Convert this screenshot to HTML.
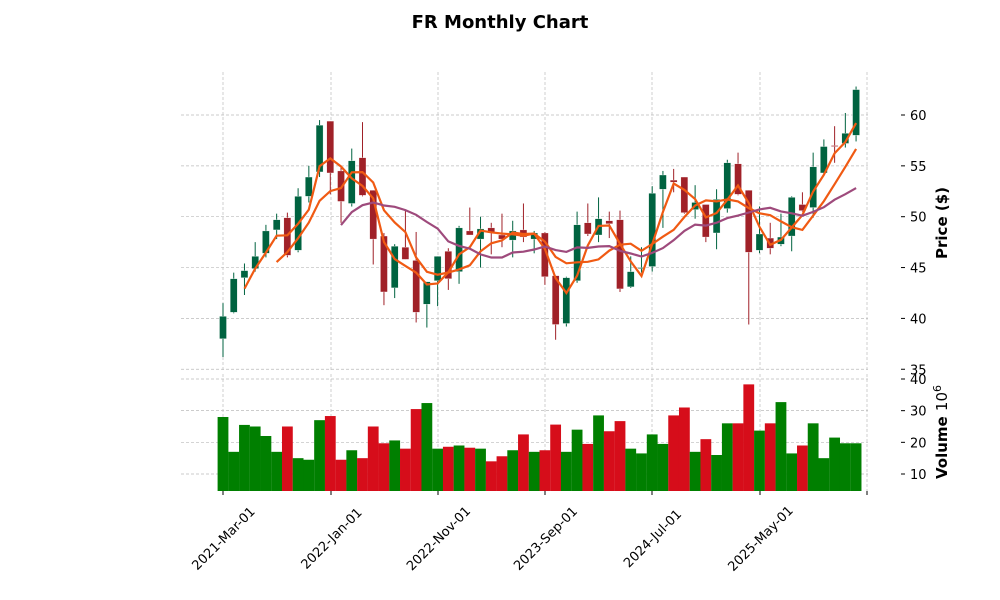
<!DOCTYPE html>
<html><head><meta charset="utf-8"><style>
html,body{margin:0;padding:0;background:#fff;}
svg{display:block;font-family:"Liberation Sans","DejaVu Sans",sans-serif;}
</style></head><body>
<svg id="c" width="1000" height="600" viewBox="0 0 1000 600" xmlns="http://www.w3.org/2000/svg">
<text x="500" y="28" text-anchor="middle" font-size="18" font-weight="bold" font-family="DejaVu Sans, sans-serif">FR Monthly Chart</text>
</svg>
<script>
const D=[[38.0,41.5,36.2,40.2],[40.6,44.5,40.5,43.9],[44.0,45.4,42.3,44.7],[44.9,47.5,44.6,46.1],[46.4,49.2,46.0,48.6],[48.7,50.3,47.8,49.7],[49.9,50.4,46.0,46.2],[46.7,52.8,46.5,52.0],[52.0,55.0,51.4,53.9],[54.4,59.5,53.9,59.0],
[59.4,59.4,52.2,54.3],[54.5,54.9,49.4,51.5],[51.3,56.7,51.0,55.5],[55.8,59.3,52.0,52.1],[52.6,52.6,45.3,47.8],[48.1,48.4,41.3,42.6],[43.0,47.3,42.0,47.1],[47.0,50.7,45.8,45.8],[45.7,48.5,39.6,40.6],[41.4,43.6,39.1,43.6],
[43.7,46.1,41.2,46.1],[46.6,46.9,42.8,43.9],[44.6,49.1,43.4,48.9],[48.6,50.9,48.2,48.2],[47.8,50.0,45.0,48.8],[48.9,49.4,46.3,48.4],[48.2,50.3,47.0,47.8],[47.7,49.6,46.0,48.6],[48.7,51.3,47.5,48.0],[47.8,48.6,46.4,48.4],
[48.4,48.5,43.3,44.1],[44.2,44.2,37.9,39.4],[39.5,44.1,39.2,44.0],[43.7,50.5,43.5,49.2],[49.4,51.3,48.1,48.3],[48.2,51.9,47.5,49.8],[49.6,50.5,47.9,49.3],[49.7,50.6,42.6,42.9],[43.1,46.1,43.0,44.6],[44.9,47.0,44.5,45.0],
[45.1,53.0,44.6,52.3],[52.7,54.5,48.9,54.1],[53.6,54.7,52.4,53.4],[53.9,53.9,50.3,50.4],[50.7,53.1,49.8,51.4],[51.2,51.2,47.5,48.0],[48.4,52.7,46.8,51.7],[50.8,55.6,50.4,55.3],[55.2,56.3,52.1,52.2],[52.6,52.6,39.4,46.5],
[46.7,51.0,46.4,48.3],[47.9,49.4,46.3,46.9],[47.3,50.3,47.1,48.0],[48.1,52.0,46.6,51.9],[51.2,52.4,50.5,50.6],[50.9,56.3,49.9,54.9],[54.3,57.6,54.1,56.9],[57.0,58.9,55.3,56.9],[57.2,60.2,56.8,58.2],[58.0,62.8,57.4,62.5]];
const V=[28,17,25.5,25,22,17,25,15,14.5,27,28.3,14.5,17.5,15,25,19.7,20.6,18,30.5,32.4,18,18.6,19,18.3,18,14,15.6,17.5,22.5,17,17.5,25.6,17,24,19.5,28.5,23.5,26.7,18,16.5,22.5,19.5,28.5,31,17,21,16,26,26,38.3,23.7,26,32.7,16.5,19,26,15,21.5,19.7,19.7];
const s=document.getElementById('c');let h='';
const X=i=>223+i*10.73, Y=p=>115+(60-p)*10.17, VY=v=>474-(v-10)*3.167;
const L=181,R=868,TK=901;
for(const p of [35,40,45,50,55,60]){h+=`<line x1="${L}" x2="${R}" y1="${Y(p)}" y2="${Y(p)}" stroke="#bbb" stroke-width="0.7" stroke-dasharray="3,2"/>`;
h+=`<line x1="${TK}" x2="${TK+4}" y1="${Y(p)}" y2="${Y(p)}" stroke="#000"/><text x="${TK+9}" y="${Y(p)+5}" font-size="13" font-family="DejaVu Sans,sans-serif">${p}</text>`;}
for(const v of [10,20,30,40]){h+=`<line x1="${L}" x2="${R}" y1="${VY(v)}" y2="${VY(v)}" stroke="#bbb" stroke-width="0.7" stroke-dasharray="3,2"/>`;
h+=`<line x1="${TK}" x2="${TK+4}" y1="${VY(v)}" y2="${VY(v)}" stroke="#000"/><text x="${TK+9}" y="${VY(v)+5}" font-size="13" font-family="DejaVu Sans,sans-serif">${v}</text>`;}
const tx=[223,331,438,545,652,760,867],tl=['2021-Mar-01','2022-Jan-01','2022-Nov-01','2023-Sep-01','2024-Jul-01','2025-May-01',''];
tx.forEach((x,k)=>{h+=`<line x1="${x}" x2="${x}" y1="72" y2="370" stroke="#bbb" stroke-width="0.7" stroke-dasharray="3,2"/><line x1="${x}" x2="${x}" y1="374" y2="491" stroke="#bbb" stroke-width="0.7" stroke-dasharray="3,2"/><line x1="${x}" x2="${x}" y1="491" y2="495" stroke="#000"/>`;
if(tl[k])h+=`<text transform="translate(${x},${538}) rotate(-45)" text-anchor="middle" font-size="13" font-family="DejaVu Sans,sans-serif" dy="5">${tl[k]}</text>`;});
V.forEach((v,i)=>{const up=D[i][3]>=D[i][0]||i==57;h+=`<rect x="${X(i)-5.4}" y="${VY(v)}" width="10.8" height="${491-VY(v)}" fill="${up?'#007f00':'#d60d1a'}"/>`;});
D.forEach((d,i)=>{const [o,hi,lo,c]=d;const up=c>=o;const col=up?'#006340':'#a02128';const x=X(i);
h+=`<line x1="${x}" x2="${x}" y1="${Y(hi)}" y2="${Y(lo)}" stroke="${col}" stroke-width="1"/>`;
const t=Y(Math.max(o,c)),b=Y(Math.min(o,c));h+=`<rect x="${x-3.5}" y="${t}" width="7" height="${Math.max(b-t,1)}" fill="${col}" stroke="#fff" stroke-width="0.3"/>`;});
function ma(n,col){let pts=[];for(let i=n-1;i<D.length;i++){let s=0;for(let j=i-n+1;j<=i;j++)s+=D[j][3];pts.push(X(i).toFixed(1)+','+Y(s/n).toFixed(1));}
h+=`<polyline points="${pts.join(' ')}" fill="none" stroke="${col}" stroke-width="2.2"/>`;}
ma(3,'#f05a13');ma(6,'#f05a13');ma(12,'#9e4a7c');
h+=`<text transform="translate(947,223) rotate(-90)" text-anchor="middle" font-size="15" font-weight="bold" font-family="DejaVu Sans,sans-serif">Price ($)</text>`;
h+=`<text transform="translate(947,432) rotate(-90)" text-anchor="middle" font-size="15" font-weight="bold" font-family="DejaVu Sans,sans-serif">Volume <tspan font-weight="normal">10</tspan><tspan dy="-6" font-size="11" font-weight="normal">6</tspan></text>`;
s.insertAdjacentHTML('beforeend',h);
</script>
</body></html>
